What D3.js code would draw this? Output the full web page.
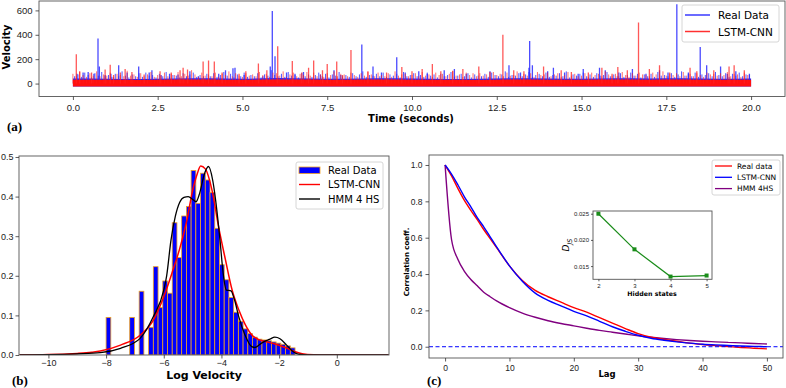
<!DOCTYPE html>
<html>
<head>
<meta charset="utf-8">
<script src="https://cdn.jsdelivr.net/npm/d3@7"></script>
<style>
body{margin:0;background:#fff;}
svg{display:block;font-family:"DejaVu Sans",sans-serif;}
.tick text{fill:#222;}
</style>
</head>
<body>
<div id="chart"></div>
<script>
// ---- (a) velocity time series: tall spikes [time (s), velocity]
var realSpikes = [[0.12,80],[0.3,90],[0.45,95],[0.62,80],[0.74,370],[0.78,140],[0.95,70],[1.12,80],[1.35,150],[1.6,90],[1.94,140],[2.25,90],[2.33,110],[2.6,70],[2.85,80],[3.1,75],[3.45,100],[3.7,60],[4.3,80],[4.5,110],[4.72,125],[4.78,130],[5.05,70],[5.6,60],[5.82,140],[5.88,595],[5.96,225],[6.3,90],[6.55,80],[6.8,95],[7.3,75],[7.7,110],[7.9,70],[8.52,320],[8.85,140],[9.1,90],[9.55,215],[9.8,90],[10.2,100],[10.45,80],[10.95,110],[11.25,120],[11.6,80],[12.3,100],[12.86,150],[13.2,90],[13.45,130],[13.47,350],[13.55,150],[14.0,100],[14.17,130],[14.5,90],[14.9,80],[15.05,120],[15.53,130],[15.7,110],[16.1,90],[16.5,120],[16.9,80],[17.3,110],[17.55,90],[17.81,650],[18.15,90],[18.5,300],[18.69,150],[19.1,140],[19.3,80],[19.55,100],[19.95,80]];
var lstmSpikes = [[0.1,240],[0.2,100],[0.55,90],[0.95,115],[1.1,155],[1.2,70],[1.4,90],[1.54,120],[1.74,95],[2.1,75],[2.57,100],[2.9,90],[3.16,110],[3.25,130],[3.38,115],[3.84,180],[4.0,190],[4.17,180],[4.4,90],[4.9,80],[5.1,100],[5.47,165],[5.72,110],[6.04,305],[6.47,185],[6.75,90],[6.95,130],[7.1,190],[7.36,110],[7.5,160],[7.78,180],[7.95,70],[8.2,275],[8.7,100],[9.25,90],[9.7,135],[10.0,100],[10.3,120],[10.6,160],[10.85,100],[11.2,105],[11.5,120],[11.97,140],[12.3,95],[12.68,400],[13.0,110],[13.3,100],[13.88,140],[14.4,110],[14.7,95],[15.2,90],[15.6,130],[15.9,80],[16.07,135],[16.35,110],[16.68,500],[17.0,120],[17.3,150],[17.6,90],[18.2,130],[18.4,100],[18.9,110],[19.35,140],[19.5,150],[19.8,110]];
// the dense small fluctuations, one value every 0.1 s
var noiseStep = 0.1;
var realNoise = [60,75,55,90,70,50,85,65,95,60, 70,55,80,60,100,65,50,75,60,85, 55,90,65,70,50,80,60,95,55,70, 65,50,85,60,75,90,55,70,60,80,
  60,85,55,70,95,65,80,50,75,60, 90,55,70,60,85,50,75,65,110,70, 60,80,55,95,65,70,50,85,60,75, 55,70,90,60,80,50,75,65,95,60,
  70,55,85,60,75,100,55,70,65,80, 60,90,55,75,65,80,50,95,60,70, 85,60,70,55,90,65,75,50,80,60, 70,95,55,65,80,60,85,50,75,65,
  60,80,55,90,70,60,75,100,55,70, 65,85,60,75,95,55,70,80,60,90, 55,70,65,85,60,100,50,75,65,80, 90,60,75,55,85,65,70,95,60,75,
  60,85,55,70,90,65,80,50,75,60, 80,55,95,65,70,60,85,55,75,100, 65,80,60,90,55,75,70,85,60,95, 70,60,85,55,80,65,90,60,75,70];
var lstmNoise = [80,60,95,70,55,85,65,100,60,75, 65,90,55,80,70,60,105,65,75,55, 85,60,75,95,55,70,65,90,60,80, 70,95,60,80,65,110,75,55,90,65,
  75,60,90,55,80,70,100,60,85,65, 55,85,65,75,60,95,70,80,55,90, 85,65,100,55,75,90,60,80,70,95, 65,90,60,75,55,85,70,100,60,80,
  75,60,90,70,55,85,65,95,75,60, 90,70,60,85,55,100,65,75,80,60, 70,85,60,95,65,75,55,90,70,80, 60,80,100,65,75,55,90,70,85,60,
  85,65,75,55,95,70,80,60,90,65, 70,100,60,80,65,85,55,95,70,75, 90,60,75,85,55,70,95,65,80,60, 65,85,55,90,70,80,60,100,75,65,
  80,60,95,70,55,85,65,90,75,70, 60,90,75,55,100,65,80,70,85,60, 95,65,80,60,85,70,55,90,75,80, 65,85,70,95,60,80,75,55,90,70];
// top of the solid band, one value per second
var bandTimes = [0,1,2,3,4,5,6,7,8,9,10,11,12,13,14,15,16,17,18,19,20];
var realBand = [42,40,38,42,44,40,45,42,40,43,42,38,40,44,42,40,43,42,44,40,42];
var lstmBand = [32,31,30,33,34,31,34,33,31,33,32,31,30,33,32,31,33,32,34,31,32];
var timeTicks = [0,2.5,5,7.5,10,12.5,15,17.5,20];
var velTicks = [0,200,400,600];

// ---- (b) log velocity histogram + densities
var binStart = -8.0, binWidth = 0.1638;
var histHeights = [0.095,0,0,0,0,0.095,0,0.161,0,
  0.07,0.223,0.12,0.187,0.156,0.334,0.246,0.351,0.375,0.466,0.383,0.459,0.442,
  0.41,0.32,0.228,0.19,0.145,0.108,0.085,0.066,0.054,0.045,0.040,0.038,0.036,0.033,0.030,0.027,0.023,0.018];
var lstmKdeX = [-11,-10,-9,-8.5,-8.2,-7.5,-6.82,-6.36,-6.0,-5.72,-5.45,-5.2,-5.0,-4.85,-4.72,-4.56,-4.33,-4.1,-3.86,-3.63,-3.4,-3.17,-2.94,-2.71,-2.48,-2.14,-1.79,-1.44,-1.2,-0.8,-0.3,0.5,1.8];
var lstmKdeY = [0.0005,0.001,0.004,0.007,0.01,0.025,0.05,0.088,0.147,0.206,0.268,0.34,0.415,0.455,0.477,0.47,0.417,0.324,0.24,0.164,0.114,0.076,0.05,0.039,0.034,0.028,0.019,0.008,0.003,0.0005,0,0,0];
var hmmKdeX = [-11,-10,-9,-8.2,-7.5,-6.82,-6.36,-6.0,-5.9,-5.75,-5.6,-5.45,-5.3,-5.15,-5.0,-4.88,-4.75,-4.6,-4.45,-4.3,-4.2,-4.05,-3.94,-3.83,-3.67,-3.55,-3.4,-3.18,-2.95,-2.84,-2.61,-2.32,-2.15,-1.97,-1.74,-1.51,-1.34,-1.0,0,1.8];
var hmmKdeY = [0.0003,0.001,0.003,0.006,0.017,0.042,0.097,0.164,0.2,0.29,0.35,0.385,0.398,0.4,0.393,0.387,0.41,0.455,0.476,0.44,0.39,0.29,0.206,0.164,0.162,0.14,0.097,0.05,0.021,0.019,0.03,0.04,0.045,0.041,0.025,0.008,0.002,0,0,0];
var logTicks = [-10,-8,-6,-4,-2,0];
var densTicks = [0,0.1,0.2,0.3,0.4,0.5];

// ---- (c) autocorrelation
var lags = [0,1,2,3,4,5,6,7,8,10,12,14,16,18,20,22,24,26,28,30,32,34,36,38,40,42,44,46,48,50];
var acfReal = [1.0,0.94,0.87,0.805,0.75,0.70,0.645,0.595,0.545,0.445,0.365,0.31,0.275,0.245,0.215,0.19,0.16,0.13,0.10,0.072,0.052,0.04,0.03,0.02,0.012,0.006,0.001,-0.004,-0.008,-0.012];
var acfLstm = [1.0,0.95,0.89,0.825,0.77,0.71,0.66,0.605,0.55,0.445,0.36,0.295,0.255,0.225,0.195,0.17,0.14,0.11,0.085,0.063,0.047,0.036,0.027,0.02,0.014,0.01,0.007,0.004,0.002,0.0];
var acfHmm = [1.0,0.59,0.48,0.415,0.37,0.335,0.30,0.275,0.252,0.215,0.185,0.162,0.143,0.128,0.115,0.102,0.09,0.08,0.07,0.06,0.052,0.045,0.039,0.034,0.03,0.027,0.024,0.021,0.018,0.015];
var lagTicks = [0,10,20,30,40,50];
var corrTicks = [0,0.2,0.4,0.6,0.8,1.0];

// ---- inset: JS divergence vs hidden states
var hiddenStates = [2,3,4,5];
var djs = [0.0250,0.0182,0.0130,0.0132];

(function drawFigure(){
    var svg = d3.select('#chart').append('svg')
        .attr('width',786).attr('height',388);

    function styleAxis(g, fs){
        g.select('.domain').remove();
        g.selectAll('.tick line').attr('stroke','#333').attr('stroke-width',0.8);
        g.selectAll('.tick text').style('font-size',fs+'px');
    }
    function frame(x0,y0,x1,y1){
        svg.append('rect').attr('x',x0).attr('y',y0)
            .attr('width',x1-x0).attr('height',y1-y0)
            .attr('fill','none').attr('stroke','#555').attr('stroke-width',0.9);
    }
    function clip(id,x0,y0,x1,y1){
        svg.append('clipPath').attr('id',id).append('rect')
            .attr('x',x0).attr('y',y0).attr('width',x1-x0).attr('height',y1-y0);
        return svg.append('g').attr('clip-path','url(#'+id+')');
    }
    function spikes(g, data, xs, ys, color, w, op){
        g.append('g').selectAll('line').data(data).enter().append('line')
            .attr('x1',d => xs(d[0])).attr('x2',d => xs(d[0]))
            .attr('y1',ys(0)).attr('y2',d => ys(d[1]))
            .attr('stroke',color).attr('stroke-width',w).attr('stroke-opacity',op);
    }

    // ================= (a) =================
    var A = {l:39,r:785,t:1,b:96.5};
    var xA = d3.scaleLinear().domain([-1,21]).range([A.l,A.r]);
    var yA = d3.scaleLinear().domain([-106,677]).range([A.b,A.t]);
    var gA = clip('clipA',A.l,A.t,A.r,A.b);

    var band = d3.area().x(d => xA(d[0])).y0(yA(-25)).y1(d => yA(d[1])).curve(d3.curveMonotoneX);
    gA.append('path').datum(bandTimes.map((t,i) => [t,realBand[i]]))
        .attr('d',band).attr('fill','#2222ff');
    spikes(gA, realNoise.map((v,i) => [i*noiseStep+0.05, v]), xA, yA, '#2a2aff', 0.9, 0.9);
    spikes(gA, realSpikes, xA, yA, '#2a2aff', 1.3, 0.85);
    gA.append('path').datum(bandTimes.map((t,i) => [t,lstmBand[i]]))
        .attr('d',band).attr('fill','#ff1010');
    spikes(gA, lstmNoise.map((v,i) => [i*noiseStep, v]), xA, yA, '#ff1a1a', 0.9, 0.7);
    spikes(gA, lstmSpikes, xA, yA, '#ff2020', 1.3, 0.75);
    frame(A.l,A.t,A.r,A.b);

    svg.append('g').attr('transform','translate(0,'+A.b+')')
        .call(d3.axisBottom(xA).tickValues(timeTicks).tickFormat(d3.format('.1f')).tickSize(3.5).tickPadding(4))
        .call(g => styleAxis(g,9.5));
    svg.append('g').attr('transform','translate('+A.l+',0)')
        .call(d3.axisLeft(yA).tickValues(velTicks).tickSize(3.5).tickPadding(3))
        .call(g => styleAxis(g,9.5));
    svg.append('text').attr('transform','translate(9.5,47) rotate(-90)')
        .attr('text-anchor','middle').style('font-weight','bold').style('font-size','10px').text('Velocity');
    svg.append('text').attr('x',411).attr('y',122)
        .attr('text-anchor','middle').style('font-weight','bold').style('font-size','10px').text('Time (seconds)');
    svg.append('text').attr('x',7).attr('y',131)
        .style('font-family','"Liberation Serif",serif').style('font-weight','bold').style('font-size','13px').text('(a)');

    // legend (a)
    var lgA = svg.append('g').attr('transform','translate(682,5)');
    lgA.append('rect').attr('width',97).attr('height',37).attr('rx',2)
        .attr('fill','#fff').attr('fill-opacity',0.85).attr('stroke','#ccc').attr('stroke-width',0.8);
    [['Real Data','#3a3aff'],['LSTM-CNN','#ff3030']].forEach(function(e,i){
        lgA.append('line').attr('x1',3).attr('x2',28).attr('y1',10+i*16.5).attr('y2',10+i*16.5)
            .attr('stroke',e[1]).attr('stroke-width',1.5);
        lgA.append('text').attr('x',36).attr('y',14+i*16.5).style('font-size','10.5px').text(e[0]);
    });

    // ================= (b) =================
    var B = {l:19,r:389,t:156,b:355};
    var xB = d3.scaleLinear().domain([-11.02,1.81]).range([B.l,B.r]);
    var yB = d3.scaleLinear().domain([0,0.5025]).range([B.b,B.t]);
    var gB = clip('clipB',B.l,B.t,B.r,B.b);

    var bars = histHeights.map((h,i) => ({x0:binStart+i*binWidth, x1:binStart+(i+1)*binWidth, h:h}))
        .filter(d => d.h > 0);
    gB.selectAll('rect.bar').data(bars).enter().append('rect')
        .attr('class','bar')
        .attr('x',d => xB(d.x0)).attr('width',d => xB(d.x1)-xB(d.x0))
        .attr('y',d => yB(d.h)).attr('height',d => yB(0)-yB(d.h))
        .attr('fill','#0000ff').attr('stroke','#f0a020').attr('stroke-width',0.8);

    var kde = d3.line().x(d => xB(d[0])).y(d => yB(d[1])).curve(d3.curveMonotoneX);
    gB.append('path').datum(lstmKdeX.map((x,i) => [x,lstmKdeY[i]]))
        .attr('d',kde).attr('fill','none').attr('stroke','#ff0000').attr('stroke-width',1.5);
    gB.append('path').datum(hmmKdeX.map((x,i) => [x,hmmKdeY[i]]))
        .attr('d',kde).attr('fill','none').attr('stroke','#000').attr('stroke-width',1.3);
    frame(B.l,B.t,B.r,B.b);

    svg.append('g').attr('transform','translate(0,'+B.b+')')
        .call(d3.axisBottom(xB).tickValues(logTicks).tickSize(3.5).tickPadding(1.5))
        .call(g => styleAxis(g,9));
    svg.append('g').attr('transform','translate('+B.l+',0)')
        .call(d3.axisLeft(yB).tickValues(densTicks).tickFormat(d3.format('.1f')).tickSize(3.5).tickPadding(2))
        .call(g => styleAxis(g,9));
    svg.append('text').attr('x',204).attr('y',379)
        .attr('text-anchor','middle').style('font-weight','bold').style('font-size','11px').text('Log Velocity');
    svg.append('text').attr('x',12).attr('y',385)
        .style('font-family','"Liberation Serif",serif').style('font-weight','bold').style('font-size','13px').text('(b)');

    var lgB = svg.append('g').attr('transform','translate(296,162)');
    lgB.append('rect').attr('width',87).attr('height',47).attr('rx',2)
        .attr('fill','#fff').attr('fill-opacity',0.85).attr('stroke','#ccc').attr('stroke-width',0.8);
    lgB.append('rect').attr('x',3).attr('y',5).attr('width',21).attr('height',6.5)
        .attr('fill','#0000ff').attr('stroke','#f0a020').attr('stroke-width',0.8);
    lgB.append('text').attr('x',32).attr('y',12).style('font-size','10px').text('Real Data');
    [['LSTM-CNN','#ff0000'],['HMM 4 HS','#000']].forEach(function(e,i){
        var y = 22.5+i*14.5;
        lgB.append('line').attr('x1',3).attr('x2',24).attr('y1',y).attr('y2',y)
            .attr('stroke',e[1]).attr('stroke-width',1.4);
        lgB.append('text').attr('x',32).attr('y',y+3.5).style('font-size','10px').text(e[0]);
    });

    // ================= (c) =================
    var C = {l:429,r:783,t:155,b:358};
    var xC = d3.scaleLinear().domain([-2.5,52.5]).range([C.l,C.r]);
    var yC = d3.scaleLinear().domain([-0.062,1.055]).range([C.b,C.t]);
    var gC = clip('clipC',C.l,C.t,C.r,C.b);
    var acf = d3.line().x(d => xC(d[0])).y(d => yC(d[1])).curve(d3.curveMonotoneX);
    [[acfHmm,'#800080'],[acfReal,'#ff0000'],[acfLstm,'#0000ff']].forEach(function(s){
        gC.append('path').datum(lags.map((l,i) => [l,s[0][i]]))
            .attr('d',acf).attr('fill','none').attr('stroke',s[1]).attr('stroke-width',1.4);
    });
    gC.append('line').attr('x1',C.l).attr('x2',C.r).attr('y1',yC(0)).attr('y2',yC(0))
        .attr('stroke','#0000ff').attr('stroke-width',1).attr('stroke-dasharray','4,2.5');
    frame(C.l,C.t,C.r,C.b);

    svg.append('g').attr('transform','translate(0,'+C.b+')')
        .call(d3.axisBottom(xC).tickValues(lagTicks).tickSize(3.5).tickPadding(3))
        .call(g => styleAxis(g,8.5));
    svg.append('g').attr('transform','translate('+C.l+',0)')
        .call(d3.axisLeft(yC).tickValues(corrTicks).tickFormat(d3.format('.1f')).tickSize(3.5).tickPadding(3))
        .call(g => styleAxis(g,8.5));
    svg.append('text').attr('transform','translate(409,262) rotate(-90)')
        .attr('text-anchor','middle').style('font-weight','bold').style('font-size','7px').text('Correlation coeff.');
    svg.append('text').attr('x',607).attr('y',377)
        .attr('text-anchor','middle').style('font-weight','bold').style('font-size','8.5px').text('Lag');
    svg.append('text').attr('x',427).attr('y',385)
        .style('font-family','"Liberation Serif",serif').style('font-weight','bold').style('font-size','13px').text('(c)');

    var lgC = svg.append('g').attr('transform','translate(712,160)');
    lgC.append('rect').attr('width',68).attr('height',35).attr('rx',2)
        .attr('fill','#fff').attr('fill-opacity',0.85).attr('stroke','#ccc').attr('stroke-width',0.8);
    [['Real data','#ff0000'],['LSTM-CNN','#0000ff'],['HMM 4HS','#800080']].forEach(function(e,i){
        var y = 6+i*11.3;
        lgC.append('line').attr('x1',3).attr('x2',20).attr('y1',y).attr('y2',y)
            .attr('stroke',e[1]).attr('stroke-width',1.3);
        lgC.append('text').attr('x',25).attr('y',y+2.8).style('font-size','7.5px').text(e[0]);
    });

    // inset
    var I = {l:593,r:712,t:211,b:279.3};
    var xI = d3.scaleLinear().domain([1.85,5.15]).range([I.l,I.r]);
    var yI = d3.scaleLinear().domain([0.01248,0.02552]).range([I.b,I.t]);
    svg.append('rect').attr('x',I.l).attr('y',I.t).attr('width',I.r-I.l).attr('height',I.b-I.t).attr('fill','#fff');
    var pts = hiddenStates.map((h,i) => [h,djs[i]]);
    svg.append('path').datum(pts)
        .attr('d',d3.line().x(d => xI(d[0])).y(d => yI(d[1])))
        .attr('fill','none').attr('stroke','#1a8c1a').attr('stroke-width',1.2);
    svg.selectAll('.mk').data(pts).enter().append('rect')
        .attr('x',d => xI(d[0])-2).attr('y',d => yI(d[1])-2).attr('width',4).attr('height',4)
        .attr('fill','#1a8c1a');
    frame(I.l,I.t,I.r,I.b);
    svg.append('g').attr('transform','translate(0,'+I.b+')')
        .call(d3.axisBottom(xI).tickValues(hiddenStates).tickFormat(d3.format('d')).tickSize(2).tickPadding(2))
        .call(g => styleAxis(g,6));
    svg.append('g').attr('transform','translate('+I.l+',0)')
        .call(d3.axisLeft(yI).tickValues([0.015,0.020,0.025]).tickFormat(d3.format('.3f')).tickSize(2).tickPadding(2))
        .call(g => styleAxis(g,6));
    var dl = svg.append('text').attr('transform','translate(569,245) rotate(-90)')
        .attr('text-anchor','middle').style('font-size','9px').style('font-style','italic');
    dl.append('tspan').text('D');
    dl.append('tspan').attr('dy',2.5).style('font-size','6.5px').text('JS');
    svg.append('text').attr('x',652).attr('y',296)
        .attr('text-anchor','middle').style('font-weight','bold').style('font-size','6.3px').text('Hidden states');
}());
</script>
</body>
</html>
